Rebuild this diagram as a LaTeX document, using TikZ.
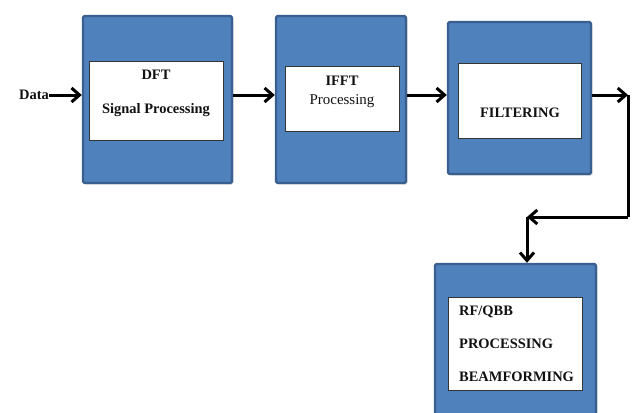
\documentclass[tikz,border=0pt]{standalone}
\usepackage{fontspec}
\setmainfont{Liberation Serif}
\usepackage{xcolor}
\usepackage{tikz}
\usetikzlibrary{calc,arrows.meta,shadows}
\definecolor{boxfill}{HTML}{4F81BD}
\definecolor{boxline}{HTML}{3A5F8E}
\definecolor{ink}{HTML}{111111}
\tikzset{
  outer/.style={draw=boxline, fill=boxfill, line width=2.4bp, rounded corners=1.5bp,
    drop shadow={shadow xshift=1.5bp, shadow yshift=-1.5bp, opacity=0.3}, inner sep=0pt},
  inner/.style={draw=ink!85, fill=white, line width=0.8bp, inner sep=0pt},
  flow/.style={draw=black, line width=3bp, line join=miter,
    -{Straight Barb[length=8bp, width=14bp, line width=3bp]}},
  wire/.style={draw=black, line width=3bp, line join=miter},
  lab/.style={text=ink, font=\fontsize{14.5}{17}\selectfont\bfseries, inner sep=0pt},
  labr/.style={text=ink, font=\fontsize{15}{17}\selectfont, inner sep=0pt},
}

\begin{document}
\begin{tikzpicture}[x=1bp, y=-1bp]
  \useasboundingbox (0,0) rectangle (635,412);
  \clip (0,0) rectangle (635,412);
  % blocks
  \node[outer, minimum width=149bp, minimum height=167bp] (dft) at (157.5,99.5) {};
  \node[outer, minimum width=130bp, minimum height=167bp] (ifft) at (341,99.5) {};
  \node[outer, minimum width=143bp, minimum height=152bp] (filt) at (519.5,98) {};
  \node[outer, minimum width=161bp, minimum height=154bp] (rfqbb) at (515.5,341) {};
  \node[inner, minimum width=134bp, minimum height=79bp] (dftin) at (156,100.5) {};
  \node[inner, minimum width=114bp, minimum height=65bp] (ifftin) at (342,98.5) {};
  \node[inner, minimum width=123bp, minimum height=75bp] (filtin) at (519.5,100.5) {};
  \node[inner, minimum width=134bp, minimum height=93bp] (rfqbbin) at (515,343.5) {};
  % texts
  \node[lab] (dfttxt) at (156,75) {DFT};
  \node[lab] (sigtxt) at (156,110) {Signal Processing};
  \node[lab] (iffttxt) at (342,81) {IFFT};
  \node[labr] (proctxt) at (342,101) {Processing};
  \node[lab] (filttxt) at (520,113) {FILTERING};
  \node[lab, anchor=west] (rftxt) at (459,312) {RF/QBB};
  \node[lab, anchor=west] (rfproc) at (459,344) {PROCESSING};
  \node[lab, anchor=west] (rfbeam) at (459,377) {BEAMFORMING};
  \node[lab, anchor=east] (data) at (49,95) {Data};
  % connectors
  \coordinate (turnA) at (628,95);
  \coordinate (turnB) at (628,217);
  \coordinate (turnC) at (527,217);
  \draw[flow] (data.east) -- (dft.west |- data);
  \draw[flow] (dft.east |- data) -- (ifft.west |- data);
  \draw[flow] (ifft.east |- data) -- (filt.west |- data);
  \draw[flow] (filt.east |- turnA) -- (turnA);
  \draw[wire] (turnA) -- (turnB);
  \draw[flow] (turnB) -- (turnC);
  \draw[flow] (turnC) -- (turnC |- rfqbb.north);
\end{tikzpicture}
\end{document}
